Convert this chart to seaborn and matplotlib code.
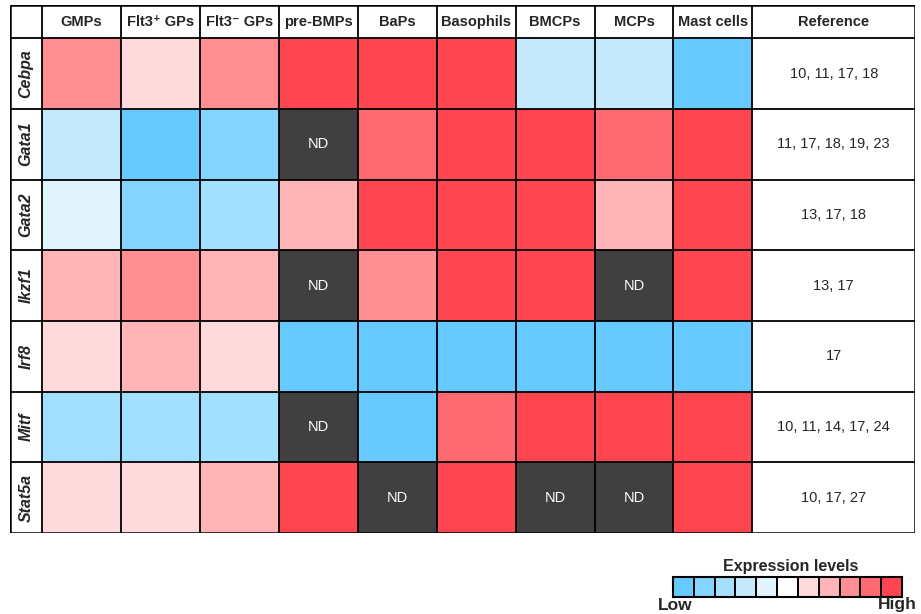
import numpy as np
import pandas as pd
import seaborn as sns
import matplotlib.pyplot as plt
from matplotlib.colors import ListedColormap, BoundaryNorm

sns.set_theme(style="white")
plt.rcParams['font.family'] = ['Liberation Sans', 'DejaVu Sans']

# data (-5 = low ... 5 = high, None = ND)
genes = ['Cebpa', 'Gata1', 'Gata2', 'Ikzf1', 'Irf8', 'Mitf', 'Stat5a']
cells = ['GMPs', 'Flt3\u207a GPs', 'Flt3\u207b GPs', 'pre-BMPs', 'BaPs',
         'Basophils', 'BMCPs', 'MCPs', 'Mast cells']
cebpa = [3, 1, 3, 5, 5, 5, -2, -2, -5]
gata1 = [-2, -5, -4, None, 4, 5, 5, 4, 5]
gata2 = [-1, -4, -3, 2, 5, 5, 5, 2, 5]
ikzf1 = [2, 3, 2, None, 3, 5, 5, None, 5]
irf8 = [1, 2, 1, -5, -5, -5, -5, -5, -5]
mitf = [-3, -3, -3, None, -5, 4, 5, 5, 5]
stat5a = [1, 1, 2, 5, None, 5, None, None, 5]
references = ['10, 11, 17, 18', '11, 17, 18, 19, 23', '13, 17, 18', '13, 17',
              '17', '10, 11, 14, 17, 24', '10, 17, 27']
levels = list(range(-5, 6))

colors = ['#66C9FF', '#85D4FF', '#A3DFFE', '#C4E9FD', '#E1F4FE', '#FFFFFF',
          '#FFDADD', '#FFB5B8', '#FF8F92', '#FF6A70', '#FF4650']
cmap = ListedColormap(colors)
norm = BoundaryNorm(np.arange(-5.5, 6.5, 1), cmap.N)

df = pd.DataFrame([cebpa, gata1, gata2, ikzf1, irf8, mitf, stat5a],
                  index=genes, columns=cells, dtype=float)
nd = df.isna()

fig = plt.figure(figsize=(9.21, 6.14), dpi=100)
W, H = 921, 614
ax = fig.add_axes([10 / W, (H - 533) / H, 905 / W, 528 / H])

sns.heatmap(df, mask=nd, cmap=cmap, norm=norm, cbar=False, ax=ax,
            xticklabels=False, yticklabels=False)
sns.heatmap(nd.astype(float), mask=~nd, cmap=ListedColormap(['#404040']),
            cbar=False, ax=ax, xticklabels=False, yticklabels=False)
for i, j in zip(*np.where(nd.values)):
    ax.text(j + 0.5, i + 0.5, 'ND', color='white', ha='center', va='center', fontsize=10.5)

# table frame: gene column on the left, header on top, reference on the right
x0, x1 = -0.405, 9 + 2.06
y0 = -0.47
ax.set_xlim(x0, x1)
ax.set_ylim(7, y0)
ax.axis('off')

ax.hlines([y0, 7], x0, x1, color='black', lw=1.8)
ax.vlines([x0, x1], y0, 7, color='black', lw=1.8)
ax.hlines(range(0, 7), x0, x1, color='black', lw=1.3)
ax.vlines(range(0, 10), y0, 7, color='black', lw=1.3)

for j, c in enumerate(cells):
    ax.text(j + 0.5, y0 / 2, c, ha='center', va='center', fontsize=10.5, fontweight='bold')
ax.text(9 + 1.03, y0 / 2, 'Reference', ha='center', va='center', fontsize=10.5, fontweight='bold')
for i, g in enumerate(genes):
    ax.text(x0 / 2, i + 0.5, g, ha='center', va='center', rotation=90,
            fontsize=11.5, fontweight='bold', fontstyle='italic')
    ax.text(9 + 1.03, i + 0.5, references[i], ha='center', va='center', fontsize=10.5)

# legend
lax = fig.add_axes([673 / W, (H - 597) / H, 229 / W, 20 / H])
sns.heatmap(np.array([levels]), cmap=cmap, norm=norm, cbar=False, ax=lax,
            linewidths=1.2, linecolor='black', xticklabels=False, yticklabels=False)
for s in lax.spines.values():
    s.set_visible(True)
    s.set_color('black')
    s.set_linewidth(1.5)
fig.text(791 / W, 1 - 566 / H, 'Expression levels', ha='center', va='center',
         fontsize=11.5, fontweight='bold')
fig.text(658 / W, 1 - 605 / H, 'Low', ha='left', va='center', fontsize=12.5, fontweight='bold')
fig.text(917 / W, 1 - 605 / H, 'High', ha='right', va='center', fontsize=12.5, fontweight='bold')

fig.savefig('out.png', dpi=100)
